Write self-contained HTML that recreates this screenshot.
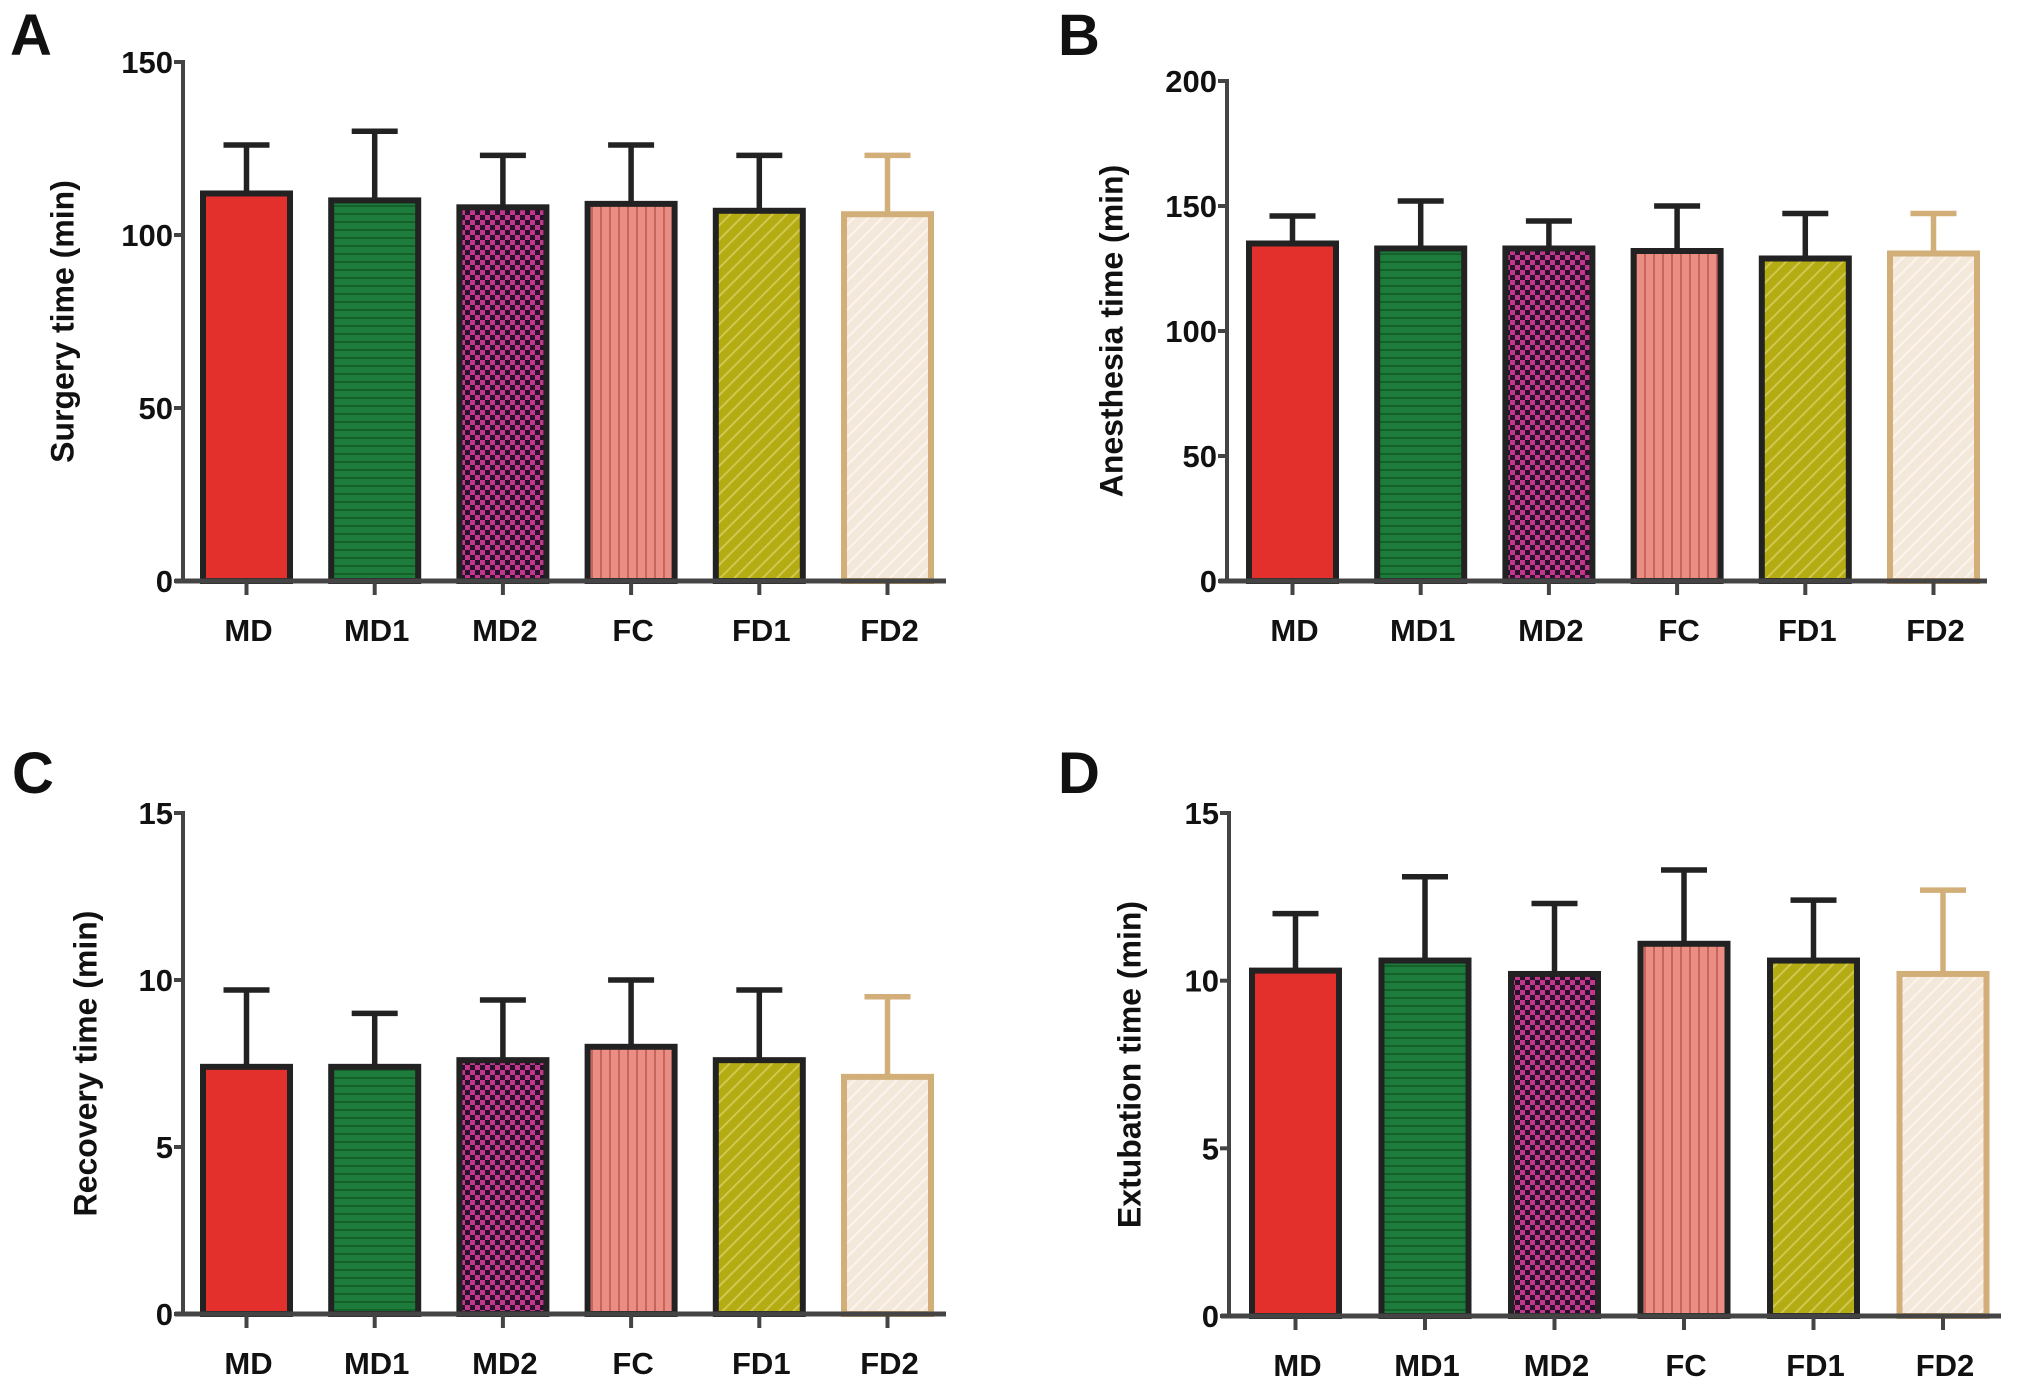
<!DOCTYPE html>
<html><head><meta charset="utf-8">
<style>
html,body{margin:0;padding:0;background:#fff;}
svg{display:block;font-family:"Liberation Sans",Arial,sans-serif;}
</style></head>
<body>
<svg id="fig" width="2031" height="1393" viewBox="0 0 2031 1393" xmlns="http://www.w3.org/2000/svg">
<defs>
  <pattern id="p-md1" width="8" height="8" patternUnits="userSpaceOnUse">
    <rect width="8" height="8" fill="#1d7c3c"/><rect y="5" width="8" height="2" fill="#14612c"/>
  </pattern>
  <pattern id="p-md2" width="10" height="10" patternUnits="userSpaceOnUse">
    <rect width="10" height="10" fill="#2a1028"/><rect width="5" height="5" fill="#c0388e"/><rect x="5" y="5" width="5" height="5" fill="#c0388e"/>
  </pattern>
  <pattern id="p-fc" width="9" height="9" patternUnits="userSpaceOnUse">
    <rect width="9" height="9" fill="#ea8e84"/><rect x="6" width="2" height="9" fill="#c9645c"/>
  </pattern>
  <pattern id="p-fd1" width="10" height="10" patternUnits="userSpaceOnUse" patternTransform="rotate(-45)">
    <rect width="10" height="10" fill="#b4ac12"/><rect y="7" width="10" height="2" fill="#d0c850"/>
  </pattern>
  <pattern id="p-fd2" width="10" height="10" patternUnits="userSpaceOnUse" patternTransform="rotate(-45)">
    <rect width="10" height="10" fill="#f4e8da"/><rect y="7" width="10" height="2" fill="#fbf5ee"/>
  </pattern>
</defs>
<g id="root"></g>
</svg>
<script>
const categories = ["MD","MD1","MD2","FC","FD1","FD2"];
const meanA = [112,110,108,109,107,106];
const errA  = [126,130,123,126,123,123];
const meanB = [135,133,133,132,129,131];
const errB  = [146,152,144,150,147,147];
const meanC = [7.4,7.4,7.6,8.0,7.6,7.1];
const errC  = [9.7,9.0,9.4,10.0,9.7,9.5];
const meanD = [10.3,10.6,10.2,11.1,10.6,10.2];
const errD  = [12.0,13.1,12.3,13.3,12.4,12.7];
const ticksA = [0,50,100,150];
const ticksB = [0,50,100,150,200];
const ticksC = [0,5,10,15];
const ticksD = [0,5,10,15];

const fills = ["#e3302c","url(#p-md1)","url(#p-md2)","url(#p-fc)","url(#p-fd1)","url(#p-fd2)"];
const strokes = ["#222","#222","#222","#222","#222","#d2ae78"];
const NS = "http://www.w3.org/2000/svg";
const root = document.getElementById("root");
function mk(tag, attrs, parent){const e=document.createElementNS(NS,tag);for(const k in attrs)e.setAttribute(k,attrs[k]);(parent||root).appendChild(e);return e;}

const panels = [
 {id:"a",letter:"A",lx:10,ly:55,ax:183,yTop:62,y0:581,xEnd:946,b0:203,pitch:128.2,max:150,ticks:ticksA,mean:meanA,err:errA,title:"Surgery time (min)",tx:65},
 {id:"b",letter:"B",lx:1058,ly:55,ax:1227,yTop:81,y0:581,xEnd:1987,b0:1249,pitch:128.2,max:200,ticks:ticksB,mean:meanB,err:errB,title:"Anesthesia time (min)",tx:1114},
 {id:"c",letter:"C",lx:12,ly:793,ax:183,yTop:813,y0:1314,xEnd:946,b0:203,pitch:128.2,max:15,ticks:ticksC,mean:meanC,err:errC,title:"Recovery time (min)",tx:88},
 {id:"d",letter:"D",lx:1058,ly:793,ax:1229,yTop:813,y0:1316,xEnd:2001,b0:1252,pitch:129.5,max:15,ticks:ticksD,mean:meanD,err:errD,title:"Extubation time (min)",tx:1132}
];

panels.forEach(p=>{
  const g = mk("g",{});
  
  
  const ys = v => p.y0 - (v/p.max)*(p.y0-p.yTop);
  const bw = 87;
  const lt = mk("text",{x:p.lx,y:p.ly,"font-size":58,"font-weight":"bold",fill:"#111"},g);
  lt.textContent = p.letter;
  
  
  const midY = (p.yTop+p.y0)/2;
  const tt = mk("text",{x:p.tx,y:midY,"font-size":32,"font-weight":"bold",fill:"#111","text-anchor":"middle",transform:`rotate(-90 ${p.tx} ${midY})`,"dominant-baseline":"middle"},g);
  tt.textContent = p.title;
  
  
  categories.forEach((c,i)=>{
    const x = p.b0 + i*p.pitch;
    const cx = x + bw/2;
    const top = ys(p.mean[i]);
    const et = ys(p.err[i]);
    const el = mk("line",{x1:cx,y1:top,x2:cx,y2:et,stroke:strokes[i],"stroke-width":5.5},g);
    
    
    const cap = mk("line",{x1:cx-23,y1:et,x2:cx+23,y2:et,stroke:strokes[i],"stroke-width":5.5},g);
    
    
    const r = mk("rect",{x:x,y:top,width:bw,height:p.y0-top,fill:fills[i],stroke:strokes[i],"stroke-width":6},g);
    
    
    const tk = mk("line",{x1:cx,y1:p.y0,x2:cx,y2:p.y0+14,stroke:"#444","stroke-width":4},g);
    
    
    const lb = mk("text",{x:cx+2,y:p.y0+60,"font-size":31,"font-weight":"bold",fill:"#111","text-anchor":"middle"},g);
    lb.textContent = c;
    
    
  });
  const ya = mk("line",{x1:p.ax,y1:p.yTop-2,x2:p.ax,y2:p.y0+2,stroke:"#444","stroke-width":4},g);
  
  
  const xa = mk("line",{x1:p.ax-8,y1:p.y0,x2:p.xEnd,y2:p.y0,stroke:"#444","stroke-width":5},g);
  
  
  p.ticks.forEach(t=>{
    const y = ys(t);
    const tl = mk("line",{x1:p.ax-9,y1:y,x2:p.ax,y2:y,stroke:"#444","stroke-width":4},g);
    
    
    const tx = mk("text",{x:p.ax-10,y:y+11,"font-size":31,"font-weight":"bold",fill:"#111","text-anchor":"end"},g);
    tx.textContent = t;
    
    
  });
});
</script>
</body></html>
